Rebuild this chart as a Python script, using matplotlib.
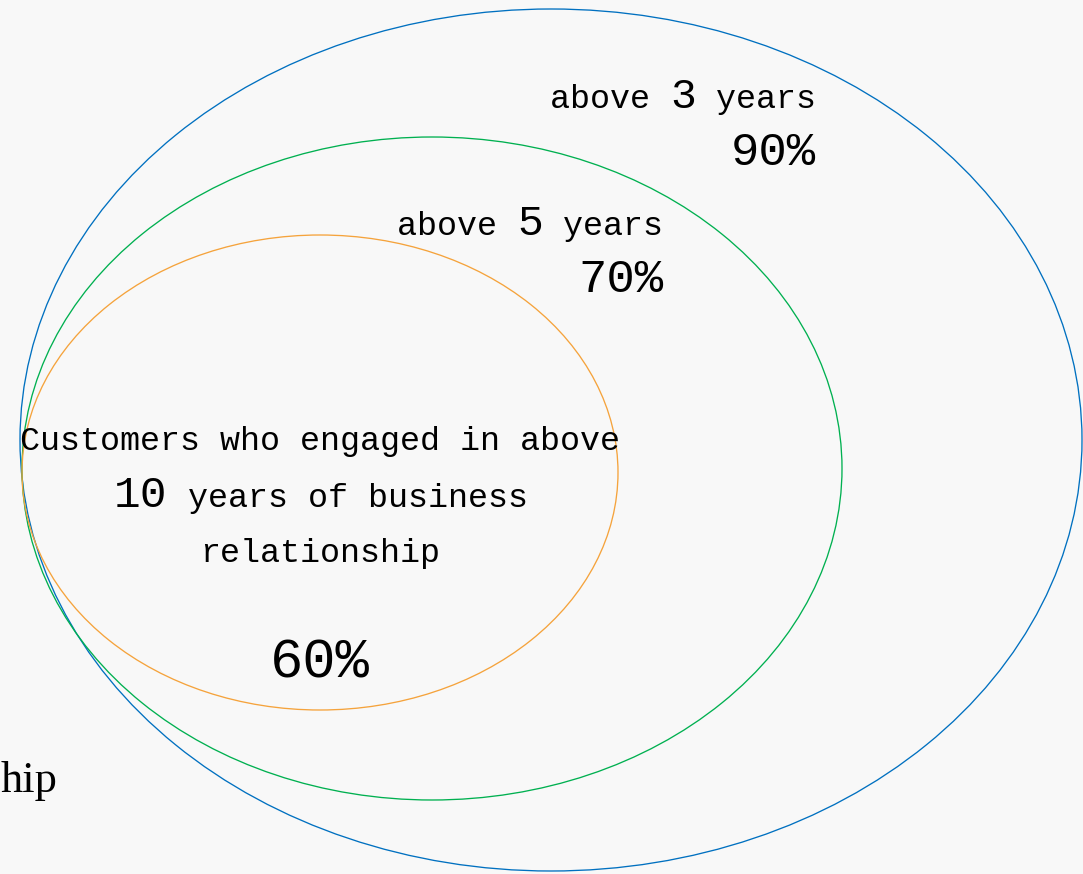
import matplotlib
matplotlib.use("Agg")
import matplotlib.pyplot as plt
from matplotlib.patches import Ellipse

# ---- data ----
years = [3, 5, 10]
percents = [90, 70, 60]
colors = ["#0070C0", "#00B050", "#F5A33C"]

W, H = 1083, 874
fig = plt.figure(figsize=(W / 100, H / 100), dpi=100)
fig.patch.set_facecolor("#f8f8f8")
ax = fig.add_axes([0, 0, 1, 1])
ax.set_xlim(0, W)
ax.set_ylim(H, 0)
ax.axis("off")
ax.set_facecolor("#f8f8f8")

# ellipse geometry (center x, center y, width, height) in pixel space
geoms = [(551, 440, 1062, 862), (432, 468.5, 820, 663), (320, 472.5, 596, 475)]
for (cx, cy, w, h), c in zip(geoms, colors):
    ax.add_patch(Ellipse((cx, cy), w, h, fill=False, edgecolor=c, lw=0.95))

FONT = "Liberation Mono"
fig.canvas.draw()
renderer = fig.canvas.get_renderer()


def draw_runs(runs, x, y, ha="left"):
    """runs: list of (text, size). y is baseline in data pixels."""
    texts = []
    widths = []
    for s, size in runs:
        t = ax.text(0, y, s, fontsize=size, family=FONT, va="baseline", ha="left", color="black")
        bb = t.get_window_extent(renderer=renderer)
        texts.append(t)
        widths.append(bb.width)
    total = sum(widths)
    if ha == "right":
        start = x - total
    elif ha == "center":
        start = x - total / 2
    else:
        start = x
    cur = start
    for t, w in zip(texts, widths):
        t.set_x(cur)
        cur += w


small = 24
big = 31
pct_size = 34

# above 3 years
draw_runs([("above ", small), (str(years[0]), big), (" years", small)], 816, 108, ha="right")
draw_runs([(f"{percents[0]}%", pct_size)], 816, 165, ha="right")

# above 5 years
draw_runs([("above ", small), (str(years[1]), big), (" years", small)], 663, 235, ha="right")
draw_runs([(f"{percents[1]}%", pct_size)], 663, 292, ha="right")

# inner text
draw_runs([("Customers who engaged in above", small)], 320, 450, ha="center")
draw_runs([(str(years[2]), 32), (" years of business", small)], 321, 507, ha="center")
draw_runs([("relationship", small)], 320, 562, ha="center")
draw_runs([(f"{percents[2]}%", 40)], 320, 677, ha="center")

# partially visible text at left edge
ax.text(1, 792, "hip", fontsize=32, family="Liberation Serif", ha="left", va="baseline", color="black")

fig.savefig("out.png", dpi=100, facecolor=fig.get_facecolor())
